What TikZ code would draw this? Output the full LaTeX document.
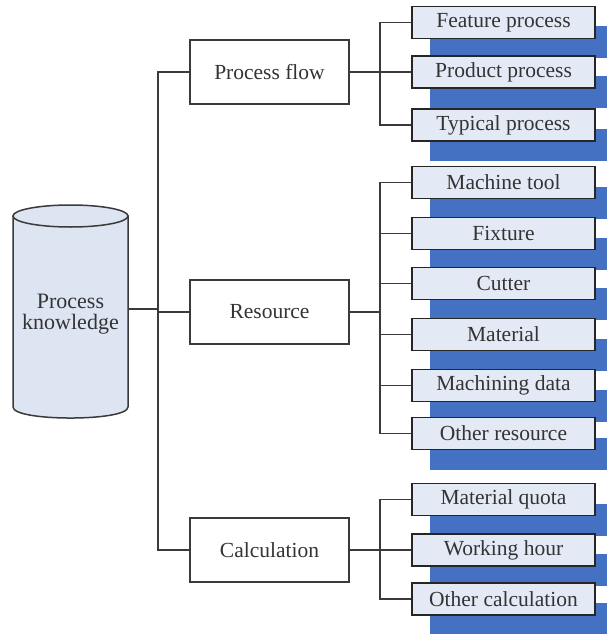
\documentclass[tikz,border=0pt]{standalone}
\usepackage{fontspec}
\setmainfont{Liberation Serif}
\usetikzlibrary{shadows}
\definecolor{shblue}{HTML}{4571C2}
\definecolor{boxfill}{HTML}{E4EAF5}
\definecolor{cylfill}{HTML}{DDE5F3}
\definecolor{linec}{HTML}{3A3A3A}
\definecolor{txt}{HTML}{333333}
\tikzset{
  conn/.style={draw=linec, line width=1.3pt},
  mainbox/.style={draw=linec, line width=1.6pt, fill=white, minimum width=159pt, minimum height=64pt, inner sep=0pt, text=txt, font=\fontsize{21.5}{23}\selectfont},
  leaf/.style={draw=black!85, line width=1.8pt, fill=boxfill, minimum width=183pt, minimum height=32pt, inner sep=0pt, text=txt, font=\fontsize{21.5}{23}\selectfont,
    drop shadow={shadow xshift=18pt, shadow yshift=-20pt, fill=shblue, opacity=1}},
}
\begin{document}
\begin{tikzpicture}[x=1pt,y=-1pt]
\useasboundingbox (0,0) rectangle (607,634);
\clip (0,0) rectangle (607,634);
\fill[white] (0,0) rectangle (607,634);
% cylinder
\filldraw[fill=cylfill, draw=linec, line width=1.5pt] (13,216) -- (13,407) .. controls (13,421.7) and (128,421.7) .. (128,407) -- (128,216) -- cycle;
\filldraw[fill=cylfill, draw=linec, line width=1.5pt] (70.5,216) ellipse (57.5 and 11);
\node[align=center, text=txt, font=\fontsize{22}{21}\selectfont, inner sep=0pt] (pk) at (70.5,314) {Process\\knowledge};
\coordinate (pkr) at (128,309);
% main boxes
\node[mainbox] (pf) at (269.5,72) {Process flow};
\node[mainbox] (res) at (269.5,312) {Resource};
\node[mainbox] (calc) at (269.5,550) {Calculation};
% leaves
\node[leaf] (fp) at (503.5,22.5) {Feature process};
\node[leaf] (pp) at (503.5,72) {Product process};
\node[leaf] (tp) at (503.5,125) {Typical process};
\node[leaf] (mt) at (503.5,182.5) {Machine tool};
\node[leaf] (fx) at (503.5,233.5) {Fixture};
\node[leaf] (cu) at (503.5,283.5) {Cutter};
\node[leaf] (ma) at (503.5,334.5) {Material};
\node[leaf] (md) at (503.5,385.5) {Machining data};
\node[leaf] (or) at (503.5,433.5) {Other resource};
\node[leaf] (mq) at (503.5,499.5) {Material quota};
\node[leaf] (wh) at (503.5,550) {Working hour};
\node[leaf] (oc) at (503.5,599) {Other calculation};
% trunk
\coordinate (ta) at (158,72);
\draw[conn] (pf.west) -- (ta) |- (calc.west);
\draw[conn] (pkr) -- (pkr -| ta);
\draw[conn] (res.west) -- (res.west -| ta);
% process flow branch
\coordinate (s1) at (380,72);
\draw[conn] (fp.west) -| (s1) |- (tp.west);
\draw[conn] (pf.east) -- (pp.west);
% resource branch
\coordinate (s2) at (380,312);
\draw[conn] (mt.west) -| (s2) |- (or.west);
\draw[conn] (res.east) -- (s2);
\foreach \n in {fx,cu,ma,md} \draw[conn] (\n.west) -- (\n.west -| s2);
% calculation branch
\coordinate (s3) at (380,550);
\draw[conn] (mq.west) -| (s3) |- (oc.west);
\draw[conn] (calc.east) -- (wh.west);
\end{tikzpicture}
\end{document}
